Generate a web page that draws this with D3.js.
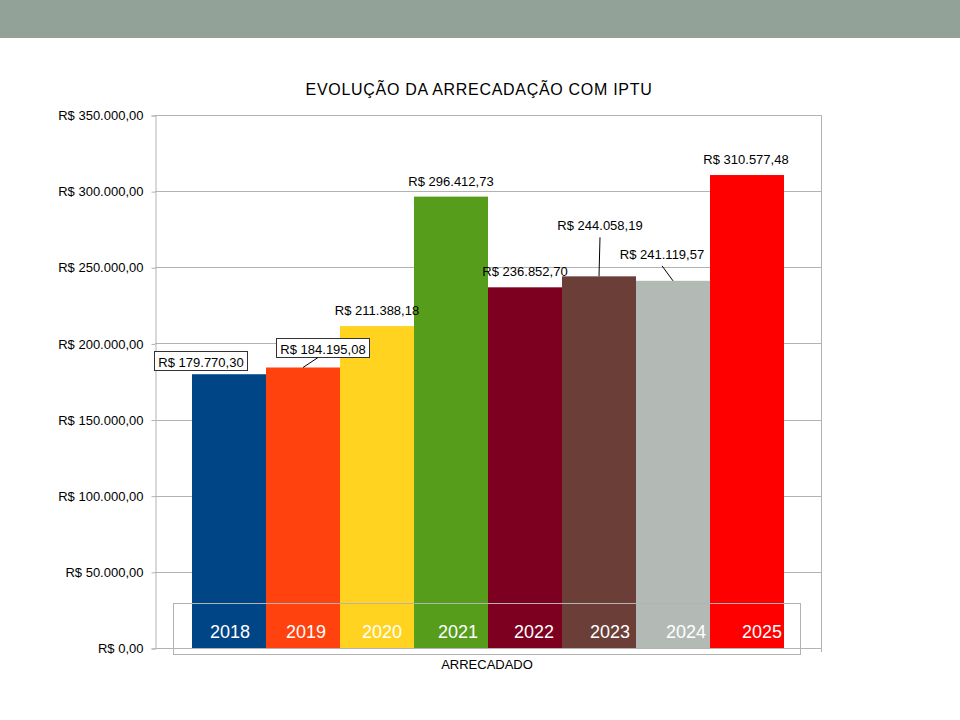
<!DOCTYPE html>
<meta charset="utf-8">
<html>
<head>
<style>
  body { margin: 0; background: #fff; }
  svg text { font-family: "Liberation Sans", Arial, sans-serif; }
</style>
</head>
<body>
<div id="chartContainer"></div>
<script src="https://cdn.jsdelivr.net/npm/d3@7"></script>
<script type="text/javascript">
  // data
  var years = ["2018", "2019", "2020", "2021", "2022", "2023", "2024", "2025"];
  var arrecadado = [179770.30, 184195.08, 211388.18, 296412.73, 236852.70, 244058.19, 241119.57, 310577.48];
  var barColors = ["#004586", "#ff420e", "#ffd320", "#579d1c", "#7e0021", "#6b3f37", "#b3bab6", "#ff0000"];
  var yTicks = [0, 50000, 100000, 150000, 200000, 250000, 300000, 350000];
  var category = ["ARRECADADO"];

  // label nudges (px): dx from bar centre, dy from bar top, boxed, leader line
  var labelNudge = [
    { dx: -28, dy: -4, box: true },
    { dx: 20, dy: -10, box: true, leader: true },
    { dx: 0, dy: -8 },
    { dx: 0, dy: -8 },
    { dx: 0, dy: -8 },
    { dx: 1, dy: -43, leader: true },
    { dx: -11, dy: -19, leader: true },
    { dx: -1, dy: -8 }
  ];

  var fmt = d3.formatLocale({ decimal: ",", thousands: ".", grouping: [3], currency: ["R$ ", ""] }).format("$,.2f");

  var W = 960, H = 720;
  var plot = { left: 155, right: 821, top: 115, bottom: 648 };

  var svg = d3.select("#chartContainer").append("svg")
    .attr("width", W).attr("height", H);

  // header band
  svg.append("rect").attr("x", 0).attr("y", 0).attr("width", W).attr("height", 38)
    .attr("fill", "#93a299");

  var y = d3.scaleLinear().domain([0, 350000]).range([plot.bottom, plot.top]);
  var xGroup = d3.scaleBand().domain(category).range([plot.left, plot.right])
    .paddingInner(0).paddingOuter(0.0625);
  var x = d3.scaleBand().domain(years)
    .range([xGroup(category[0]), xGroup(category[0]) + xGroup.bandwidth()]);

  // title
  svg.append("text")
    .attr("x", 479).attr("y", 95)
    .attr("text-anchor", "middle")
    .style("font-size", "16px")
    .style("letter-spacing", "0.7px")
    .text("EVOLUÇÃO DA ARRECADAÇÃO COM IPTU");

  // grid
  svg.append("g").selectAll("line").data(yTicks).enter().append("line")
    .attr("x1", plot.left).attr("x2", plot.right)
    .attr("y1", function (d) { return Math.round(y(d)) + 0.5; })
    .attr("y2", function (d) { return Math.round(y(d)) + 0.5; })
    .attr("stroke", "#b3b3b3");

  // y axis
  var yAxis = d3.axisLeft(y).tickValues(yTicks).tickSize(4).tickPadding(8)
    .tickFormat(function (d) { return fmt(d); });
  var gy = svg.append("g").attr("transform", "translate(" + (plot.left + 0.5) + ",0.5)").call(yAxis);
  gy.select(".domain").attr("stroke", "#b3b3b3");
  gy.selectAll(".tick line").attr("stroke", "#b3b3b3");
  gy.selectAll(".tick text").style("font-size", "13px")
    .attr("fill", "#000").attr("font-family", null);

  // right border
  svg.append("line")
    .attr("x1", plot.right + 0.5).attr("x2", plot.right + 0.5)
    .attr("y1", plot.top).attr("y2", plot.bottom + 4)
    .attr("stroke", "#b3b3b3");

  // bars
  svg.append("g").selectAll("rect").data(arrecadado).enter().append("rect")
    .attr("x", function (d, i) { return x(years[i]); })
    .attr("y", function (d) { return y(d); })
    .attr("width", x.bandwidth())
    .attr("height", function (d) { return y(0) - y(d); })
    .attr("fill", function (d, i) { return barColors[i]; });

  // value labels
  var labels = svg.append("g");
  arrecadado.forEach(function (v, i) {
    var n = labelNudge[i];
    var cx = x(years[i]) + x.bandwidth() / 2;
    var top = y(v);
    var lx = cx + n.dx, ly = top + n.dy;
    var t = labels.append("text")
      .attr("x", lx).attr("y", ly - 3)
      .attr("text-anchor", "middle")
      .style("font-size", "13px")
      .text(fmt(v));
    if (n.box) {
      var bb = t.node().getBBox();
      labels.insert("rect", "text")
        .attr("x", Math.round(bb.x - 4) + 0.5).attr("y", Math.round(ly - 19) + 0.5)
        .attr("width", Math.round(bb.width + 8)).attr("height", 19)
        .attr("fill", "#fff").attr("stroke", "#333");
    }
    if (n.leader) {
      labels.append("line")
        .attr("x1", cx).attr("y1", top)
        .attr("x2", n.box ? lx - 5 : lx).attr("y2", ly + (n.box ? 0 : 4))
        .attr("stroke", "#000");
    }
  });

  // legend box with white year labels
  var legend = svg.append("g");
  legend.append("rect")
    .attr("x", 173.5).attr("y", 603.5).attr("width", 627).attr("height", 51)
    .attr("fill", "none").attr("stroke", "#b3b3b3");
  legend.selectAll("text").data(years).enter().append("text")
    .attr("x", function (d, i) { return 230 + i * 76; })
    .attr("y", 638)
    .attr("text-anchor", "middle")
    .attr("fill", "#fff")
    .style("font-size", "18px")
    .text(function (d) { return d; });

  // x axis title
  svg.append("text")
    .attr("x", 487).attr("y", 669)
    .attr("text-anchor", "middle")
    .style("font-size", "13px")
    .text(category[0]);
</script>
</body>
</html>
